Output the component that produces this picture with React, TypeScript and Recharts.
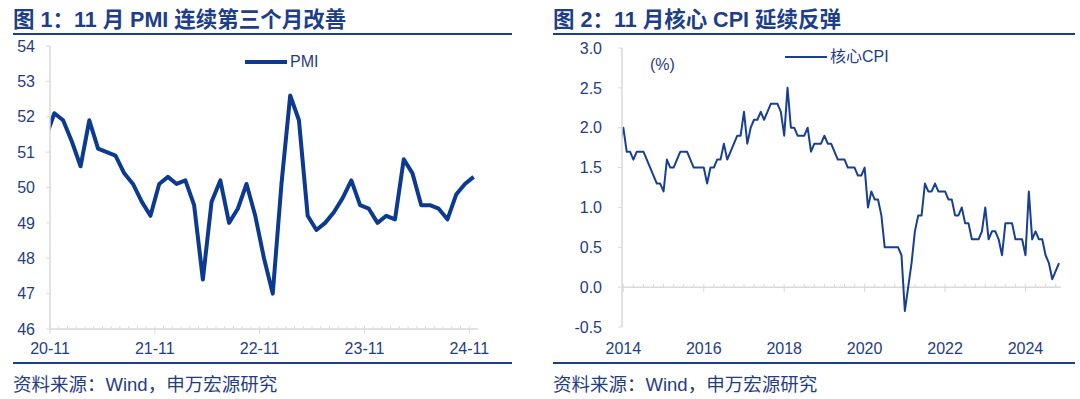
import React from 'react';
import { LineChart, Line, XAxis, YAxis, Legend, ReferenceLine } from 'recharts';

// ---------- Data: Figure 1 (PMI) ----------
const pmiStart = { year: 2020, month: 10 }; // first point: 20-10
const pmiValues = [
  51.4, 52.1, 51.9,
  51.3, 50.6, 51.9, 51.1, 51.0, 50.9, 50.4, 50.1, 49.6, 49.2, 50.1, 50.3,
  50.1, 50.2, 49.5, 47.4, 49.6, 50.2, 49.0, 49.4, 50.1, 49.2, 48.0, 47.0,
  50.1, 52.6, 51.9, 49.2, 48.8, 49.0, 49.3, 49.7, 50.2, 49.5, 49.4, 49.0,
  49.2, 49.1, 50.8, 50.4, 49.5, 49.5, 49.4, 49.1, 49.8, 50.1, 50.3,
];
const pmiTickLabels = ['20-11', '21-11', '22-11', '23-11', '24-11'];
const pmiYTicks = [46, 47, 48, 49, 50, 51, 52, 53, 54];

// ---------- Data: Figure 2 (Core CPI) ----------
const cpiStart = { year: 2013, month: 12 }; // first point: 2013-12
const cpiValues = [
  1.8,
  2.0, 1.7, 1.7, 1.6, 1.7, 1.7, 1.7, 1.6, 1.5, 1.4, 1.3, 1.3,
  1.2, 1.6, 1.5, 1.5, 1.6, 1.7, 1.7, 1.7, 1.6, 1.5, 1.5, 1.5,
  1.5, 1.3, 1.5, 1.5, 1.6, 1.6, 1.8, 1.6, 1.7, 1.8, 1.9, 1.9,
  2.2, 1.8, 2.0, 2.1, 2.1, 2.2, 2.1, 2.2, 2.3, 2.3, 2.3, 2.2,
  1.9, 2.5, 2.0, 2.0, 1.9, 1.9, 1.9, 2.0, 1.7, 1.8, 1.8, 1.8,
  1.9, 1.8, 1.8, 1.7, 1.6, 1.6, 1.6, 1.5, 1.5, 1.5, 1.4, 1.4,
  1.5, 1.0, 1.2, 1.1, 1.1, 0.9, 0.5, 0.5, 0.5, 0.5, 0.5, 0.4,
  -0.3, 0.0, 0.3, 0.7, 0.9, 0.9, 1.3, 1.2, 1.2, 1.3, 1.2, 1.2,
  1.2, 1.1, 1.1, 0.9, 0.9, 1.0, 0.8, 0.8, 0.6, 0.6, 0.6, 0.7,
  1.0, 0.6, 0.7, 0.7, 0.6, 0.4, 0.8, 0.8, 0.8, 0.6, 0.6, 0.6,
  0.4, 1.2, 0.6, 0.7, 0.6, 0.6, 0.4, 0.3, 0.1, 0.2, 0.3,
];
const cpiTickLabels = ['2014', '2016', '2018', '2020', '2022', '2024'];
const cpiYTicks = [-0.5, 0, 0.5, 1.0, 1.5, 2.0, 2.5, 3.0];

// ---------- Build tables ----------
const monthLabel = (start: { year: number; month: number }, i: number) => {
  const m0 = start.year * 12 + (start.month - 1) + i;
  const y = Math.floor(m0 / 12);
  const m = (m0 % 12) + 1;
  return `${y}-${m < 10 ? '0' + m : m}`;
};

// t = months after 20-11 (tick), points sit mid-month
const pmiData = pmiValues.map((v, i) => ({ month: monthLabel(pmiStart, i), t: i - 1 + 0.5, pmi: v }));
// t = months after 2014-01
const cpiData = cpiValues.map((v, i) => ({ month: monthLabel(cpiStart, i), t: i - 1, cpi: v }));

const pmiAxisTicks = Array.from({ length: 49 }, (_, i) => i);
const cpiLabelTicks = cpiTickLabels.map((_, i) => i * 24);
const cpiMinorTicks = Array.from({ length: 44 }, (_, i) => i * 3);

// ---------- Styles ----------
const NAVY = '#1d3e8a';
const TEXT = '#1f3d86';
const LINE1 = '#0c3a90';
const LINE2 = '#173f93';
const GREY = '#d9d9d9';
const FONT = "'Liberation Sans', Arial, 'Noto Sans CJK SC', sans-serif";

const PmiXTick = (props: any) => {
  const { x, y, payload } = props;
  const t = payload.value;
  const major = t % 12 === 0;
  return (
    <g>
      <line x1={x} x2={x} y1={y - 3} y2={y + (major ? 5 : 0)} stroke={GREY} strokeWidth={1} />
      {major && (
        <text x={x} y={y + 19} dy="0.35em" textAnchor="middle" fill={TEXT} fontSize={16} fontFamily={FONT}>
          {pmiTickLabels[t / 12]}
        </text>
      )}
    </g>
  );
};

const CpiXTick = (props: any) => {
  const { x, y, payload } = props;
  const idx = Math.round(payload.value / 24);
  return (
    <text x={x} y={y + 21} dy="0.35em" textAnchor="middle" fill={TEXT} fontSize={16} fontFamily={FONT}>
      {cpiTickLabels[idx]}
    </text>
  );
};

const makeLegend = (strokeW: number) => (props: any) => {
  const item = props.payload && props.payload[0];
  if (!item) return null;
  return (
    <div style={{ display: 'flex', alignItems: 'center', height: 20, whiteSpace: 'nowrap' }}>
      <svg width={42} height={10}>
        <line x1={0} x2={42} y1={5} y2={5} stroke={item.color} strokeWidth={strokeW} />
      </svg>
      <span style={{ marginLeft: 3, fontSize: 16, color: TEXT, fontFamily: FONT, lineHeight: '20px' }}>{item.value}</span>
    </div>
  );
};

const Panel = ({ left, width, title }: { left: number; width: number; title: string }) => (
  <>
    <div
      style={{
        position: 'absolute', left, top: 8, fontSize: 21.5, lineHeight: '24px', fontWeight: 'bold',
        color: NAVY, fontFamily: FONT, whiteSpace: 'pre',
      }}
    >
      {title}
    </div>
    <div style={{ position: 'absolute', left, top: 33, width, height: 2, background: NAVY }} />
    <div style={{ position: 'absolute', left, top: 362, width, height: 2, background: NAVY }} />
    <div
      style={{
        position: 'absolute', left, top: 374, fontSize: 18.5, lineHeight: '22px',
        color: TEXT, fontFamily: FONT, whiteSpace: 'pre',
      }}
    >
      资料来源：Wind，申万宏源研究
    </div>
  </>
);

export default function App() {
  return (
    <div style={{ position: 'fixed', left: 0, top: 0, width: 1080, height: 399, background: '#fff', overflow: 'hidden' }}>
      <Panel left={13} width={499} title="图 1：11 月 PMI 连续第三个月改善" />
      <Panel left={553} width={522} title="图 2：11 月核心 CPI 延续反弹" />

      <div style={{ position: 'absolute', left: 0, top: 0 }}>
        <LineChart width={540} height={399} data={pmiData} margin={{ top: 46, right: 62, bottom: 40, left: 10 }}>
          <XAxis
            dataKey="t"
            type="number"
            domain={[0, 49]}
            allowDataOverflow
            ticks={pmiAxisTicks}
            interval={0}
            height={30}
            tickSize={0}
            tickMargin={0}
            tickLine={false}
            axisLine={{ stroke: GREY, strokeWidth: 1.5 }}
            tick={<PmiXTick />}
          />
          <YAxis
            type="number"
            domain={[46, 54]}
            ticks={pmiYTicks}
            interval={0}
            width={40}
            tickSize={4}
            tickMargin={11}
            axisLine={{ stroke: GREY, strokeWidth: 1.5 }}
            tickLine={{ stroke: GREY }}
            tick={{ fill: TEXT, fontSize: 16, fontFamily: FONT }}
          />
          <Legend
            layout="vertical"
            verticalAlign="middle"
            align="center"
            wrapperStyle={{ left: 245, top: 52, width: 'auto' }}
            content={makeLegend(4)}
          />
          <Line
            name="PMI"
            dataKey="pmi"
            stroke={LINE1}
            strokeWidth={4}
            strokeLinejoin="round"
            dot={false}
            activeDot={false}
            isAnimationActive={false}
          />
        </LineChart>
      </div>

      <div style={{ position: 'absolute', left: 540, top: 0 }}>
        <LineChart width={540} height={399} data={cpiData} margin={{ top: 48, right: 19, bottom: 42, left: 42 }}>
          <XAxis
            dataKey="t"
            type="number"
            domain={[-0.4, 130.6]}
            allowDataOverflow
            ticks={cpiLabelTicks}
            interval={0}
            height={30}
            tickSize={0}
            tickMargin={0}
            tickLine={false}
            axisLine={false}
            tick={<CpiXTick />}
          />
          <YAxis
            type="number"
            domain={[-0.5, 3]}
            ticks={cpiYTicks}
            interval={0}
            width={40}
            tickSize={4}
            tickMargin={16}
            tickFormatter={(v: number) => v.toFixed(1)}
            axisLine={{ stroke: GREY, strokeWidth: 1.5 }}
            tickLine={{ stroke: GREY }}
            tick={{ fill: TEXT, fontSize: 16, fontFamily: FONT }}
          />
          <ReferenceLine y={0} stroke={GREY} strokeWidth={1.5} />
          {cpiMinorTicks.map((t) => (
            <ReferenceLine
              key={t}
              segment={[{ x: t, y: 0.04 }, { x: t, y: t % 24 === 0 ? -0.06 : 0 }]}
              stroke={GREY}
              strokeWidth={1}
              ifOverflow="visible"
            />
          ))}
          <Legend
            layout="vertical"
            verticalAlign="middle"
            align="center"
            wrapperStyle={{ left: 245, top: 47, width: 'auto' }}
            content={makeLegend(2)}
          />
          <Line
            name="核心CPI"
            dataKey="cpi"
            stroke={LINE2}
            strokeWidth={2}
            strokeLinejoin="round"
            dot={false}
            activeDot={false}
            isAnimationActive={false}
          />
        </LineChart>
        <div style={{ position: 'absolute', left: 110, top: 55, fontSize: 16, lineHeight: '20px', color: TEXT, fontFamily: FONT }}>
          (%)
        </div>
      </div>
    </div>
  );
}
